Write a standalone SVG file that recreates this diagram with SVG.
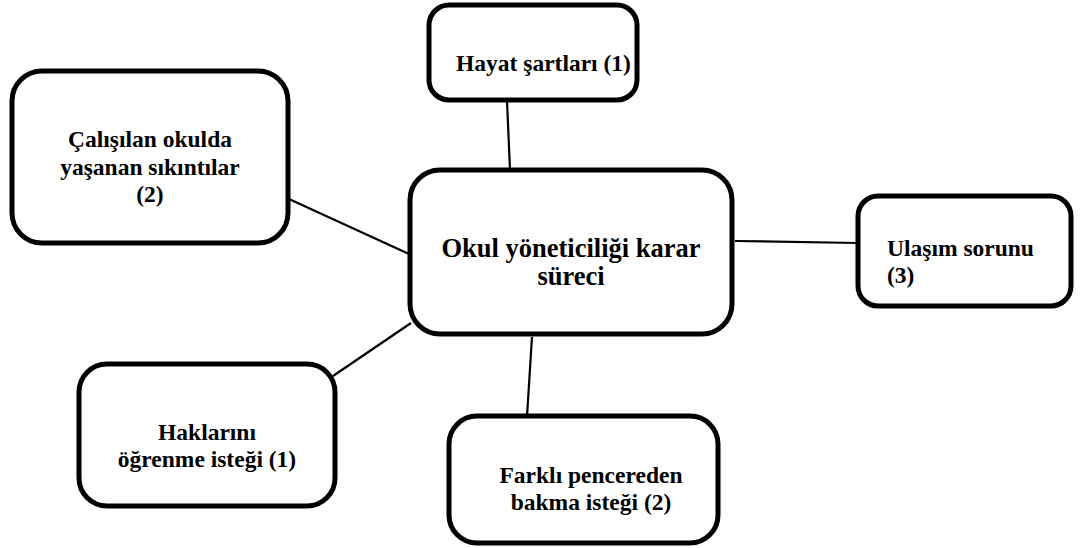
<svg xmlns="http://www.w3.org/2000/svg" width="1080" height="548" viewBox="0 0 1080 548">
  <style>
    .box { fill: #ffffff; stroke: #000000; stroke-width: 5; }
    .link { stroke: #000000; stroke-width: 2.2; fill: none; }
    .lbl { font-family: "Liberation Serif", "Times New Roman", serif; font-weight: bold; font-size: 23.5px; fill: #000000; }
    .main { font-size: 26.5px; }
    .mid { text-anchor: middle; }
  </style>
  <rect width="1080" height="548" fill="#ffffff"/>

  <g id="connectors">
    <line class="link" x1="507" y1="101" x2="510" y2="170"/>
    <line class="link" x1="289" y1="199" x2="409" y2="254"/>
    <line class="link" x1="333" y1="376" x2="411" y2="323"/>
    <line class="link" x1="735" y1="241" x2="858" y2="243"/>
    <line class="link" x1="532" y1="337" x2="527" y2="416"/>
  </g>

  <g id="hayat">
    <rect class="box" x="429" y="5" width="208" height="95" rx="20"/>
    <text class="lbl" x="456" y="71">Hayat şartları (1)</text>
  </g>

  <g id="calisilan">
    <rect class="box" x="12" y="71" width="276" height="172" rx="30"/>
    <text class="lbl mid" x="150" y="147">Çalışılan okulda</text>
    <text class="lbl mid" x="150" y="175">yaşanan sıkıntılar</text>
    <text class="lbl mid" x="150" y="202">(2)</text>
  </g>

  <g id="karar">
    <rect class="box" x="410" y="170" width="322" height="164" rx="30"/>
    <text class="lbl main mid" x="571" y="257">Okul yöneticiliği karar</text>
    <text class="lbl main mid" x="571" y="285">süreci</text>
  </g>

  <g id="ulasim">
    <rect class="box" x="858" y="196" width="213" height="110" rx="20"/>
    <text class="lbl" x="887" y="256">Ulaşım sorunu</text>
    <text class="lbl" x="887" y="283">(3)</text>
  </g>

  <g id="haklarini">
    <rect class="box" x="79" y="364" width="256" height="142" rx="28"/>
    <text class="lbl mid" x="207" y="440">Haklarını</text>
    <text class="lbl mid" x="207" y="467">öğrenme isteği (1)</text>
  </g>

  <g id="farkli">
    <rect class="box" x="449" y="416" width="269" height="127" rx="28"/>
    <text class="lbl mid" x="591" y="483">Farklı pencereden</text>
    <text class="lbl mid" x="591" y="510">bakma isteği (2)</text>
  </g>
</svg>
